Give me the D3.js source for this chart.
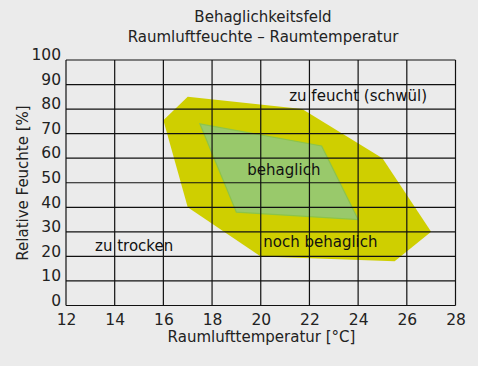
<!DOCTYPE html>
<html><head><meta charset="utf-8">
<script src="https://cdn.jsdelivr.net/npm/d3@7"></script>
<style>body{margin:0;background:#ebebeb;} svg{display:block;}</style>
</head><body>
<svg id="c" width="478" height="366"></svg>
<script>
const titleLines = ["Behaglichkeitsfeld", "Raumluftfeuchte \u2013 Raumtemperatur"];
const xTicks = [12,14,16,18,20,22,24,26,28];
const yTicks = [0,10,20,30,40,50,60,70,80,90,100];
const xLabel = "Raumlufttemperatur [°C]";
const yLabel = "Relative Feuchte [%]";
// "noch behaglich" zone (temperature °C, humidity %)
const zoneNochTemp = [16, 17, 21.7, 25, 27, 25.5, 20, 17];
const zoneNochHum  = [75.5, 85, 80, 60, 30, 18, 20, 40];
// "behaglich" zone
const zoneBehTemp = [17.5, 22.5, 24, 19];
const zoneBehHum  = [74, 65, 35, 38];
const areaLabels = ["zu feucht (schwül)", "behaglich", "zu trocken", "noch behaglich"];
const areaLabelT = [24, 20.95, 14.8, 22.45];
const areaLabelH = [85.3, 55, 24.3, 26];

const svg = d3.select("#c");
const font = "DejaVu Sans, sans-serif";
const x = d3.scaleLinear().domain([12,28]).range([66,455.5]);
const y = d3.scaleLinear().domain([0,100]).range([305.5,60]);

svg.append("rect").attr("width",478).attr("height",366).attr("fill","#ebebeb");

// zones
const line = d3.line().x(d=>x(d[0])).y(d=>y(d[1]));
const noch = zoneNochTemp.map((t,i)=>[t,zoneNochHum[i]]);
const beh = zoneBehTemp.map((t,i)=>[t,zoneBehHum[i]]);
svg.append("path").attr("d", line(noch)+"Z").attr("fill","#cfcf00");
svg.append("path").attr("d", line(beh)+"Z").attr("fill","#99c96b").attr("stroke","#8cc44a").attr("stroke-width",1.2);

// grid
const g = svg.append("g");
g.selectAll(".vx").data(xTicks).join("line")
  .attr("x1",d=>x(d)).attr("x2",d=>x(d)).attr("y1",y(0)).attr("y2",y(100))
  .attr("stroke","#111").attr("stroke-width",1.2);
g.selectAll(".hy").data(yTicks).join("line")
  .attr("y1",d=>y(d)).attr("y2",d=>y(d)).attr("x1",x(12)).attr("x2",x(28))
  .attr("stroke","#111").attr("stroke-width",1.2);
// axis ticks labels via d3 axes
const xAxis = svg.append("g").attr("transform",`translate(0,${y(0)})`)
  .call(d3.axisBottom(x).tickValues(xTicks).tickSize(0).tickPadding(6).tickFormat(d3.format("d")));
xAxis.select(".domain").remove();
xAxis.selectAll("text").attr("font-family",font).attr("font-size",15.5).attr("fill","#222").attr("dy","0.9em");
const yAxis = svg.append("g").attr("transform",`translate(${x(12)},0)`)
  .call(d3.axisLeft(y).tickValues(yTicks).tickSize(0).tickPadding(5).tickFormat(d3.format("d")));
yAxis.select(".domain").remove();
yAxis.selectAll("text").attr("font-family",font).attr("font-size",15.5).attr("fill","#222").attr("dy","-0.02em");

// titles
svg.selectAll(".title").data(titleLines).join("text")
  .attr("x",263).attr("y",(d,i)=>22+i*20).attr("text-anchor","middle")
  .attr("font-family",font).attr("font-size",15).attr("fill","#222").text(d=>d);
svg.append("text").attr("x",261.5).attr("y",342).attr("text-anchor","middle")
  .attr("font-family",font).attr("font-size",15).attr("fill","#222").text(xLabel);
svg.append("text").attr("transform","translate(28,183) rotate(-90)").attr("text-anchor","middle")
  .attr("font-family",font).attr("font-size",15).attr("fill","#222").text(yLabel);

// area labels
svg.selectAll(".al").data(areaLabels).join("text")
  .attr("x",(d,i)=>x(areaLabelT[i])).attr("y",(d,i)=>y(areaLabelH[i])+5)
  .attr("text-anchor","middle").attr("font-family",font).attr("font-size",15).attr("fill","#111").text(d=>d);
</script>
</body></html>
